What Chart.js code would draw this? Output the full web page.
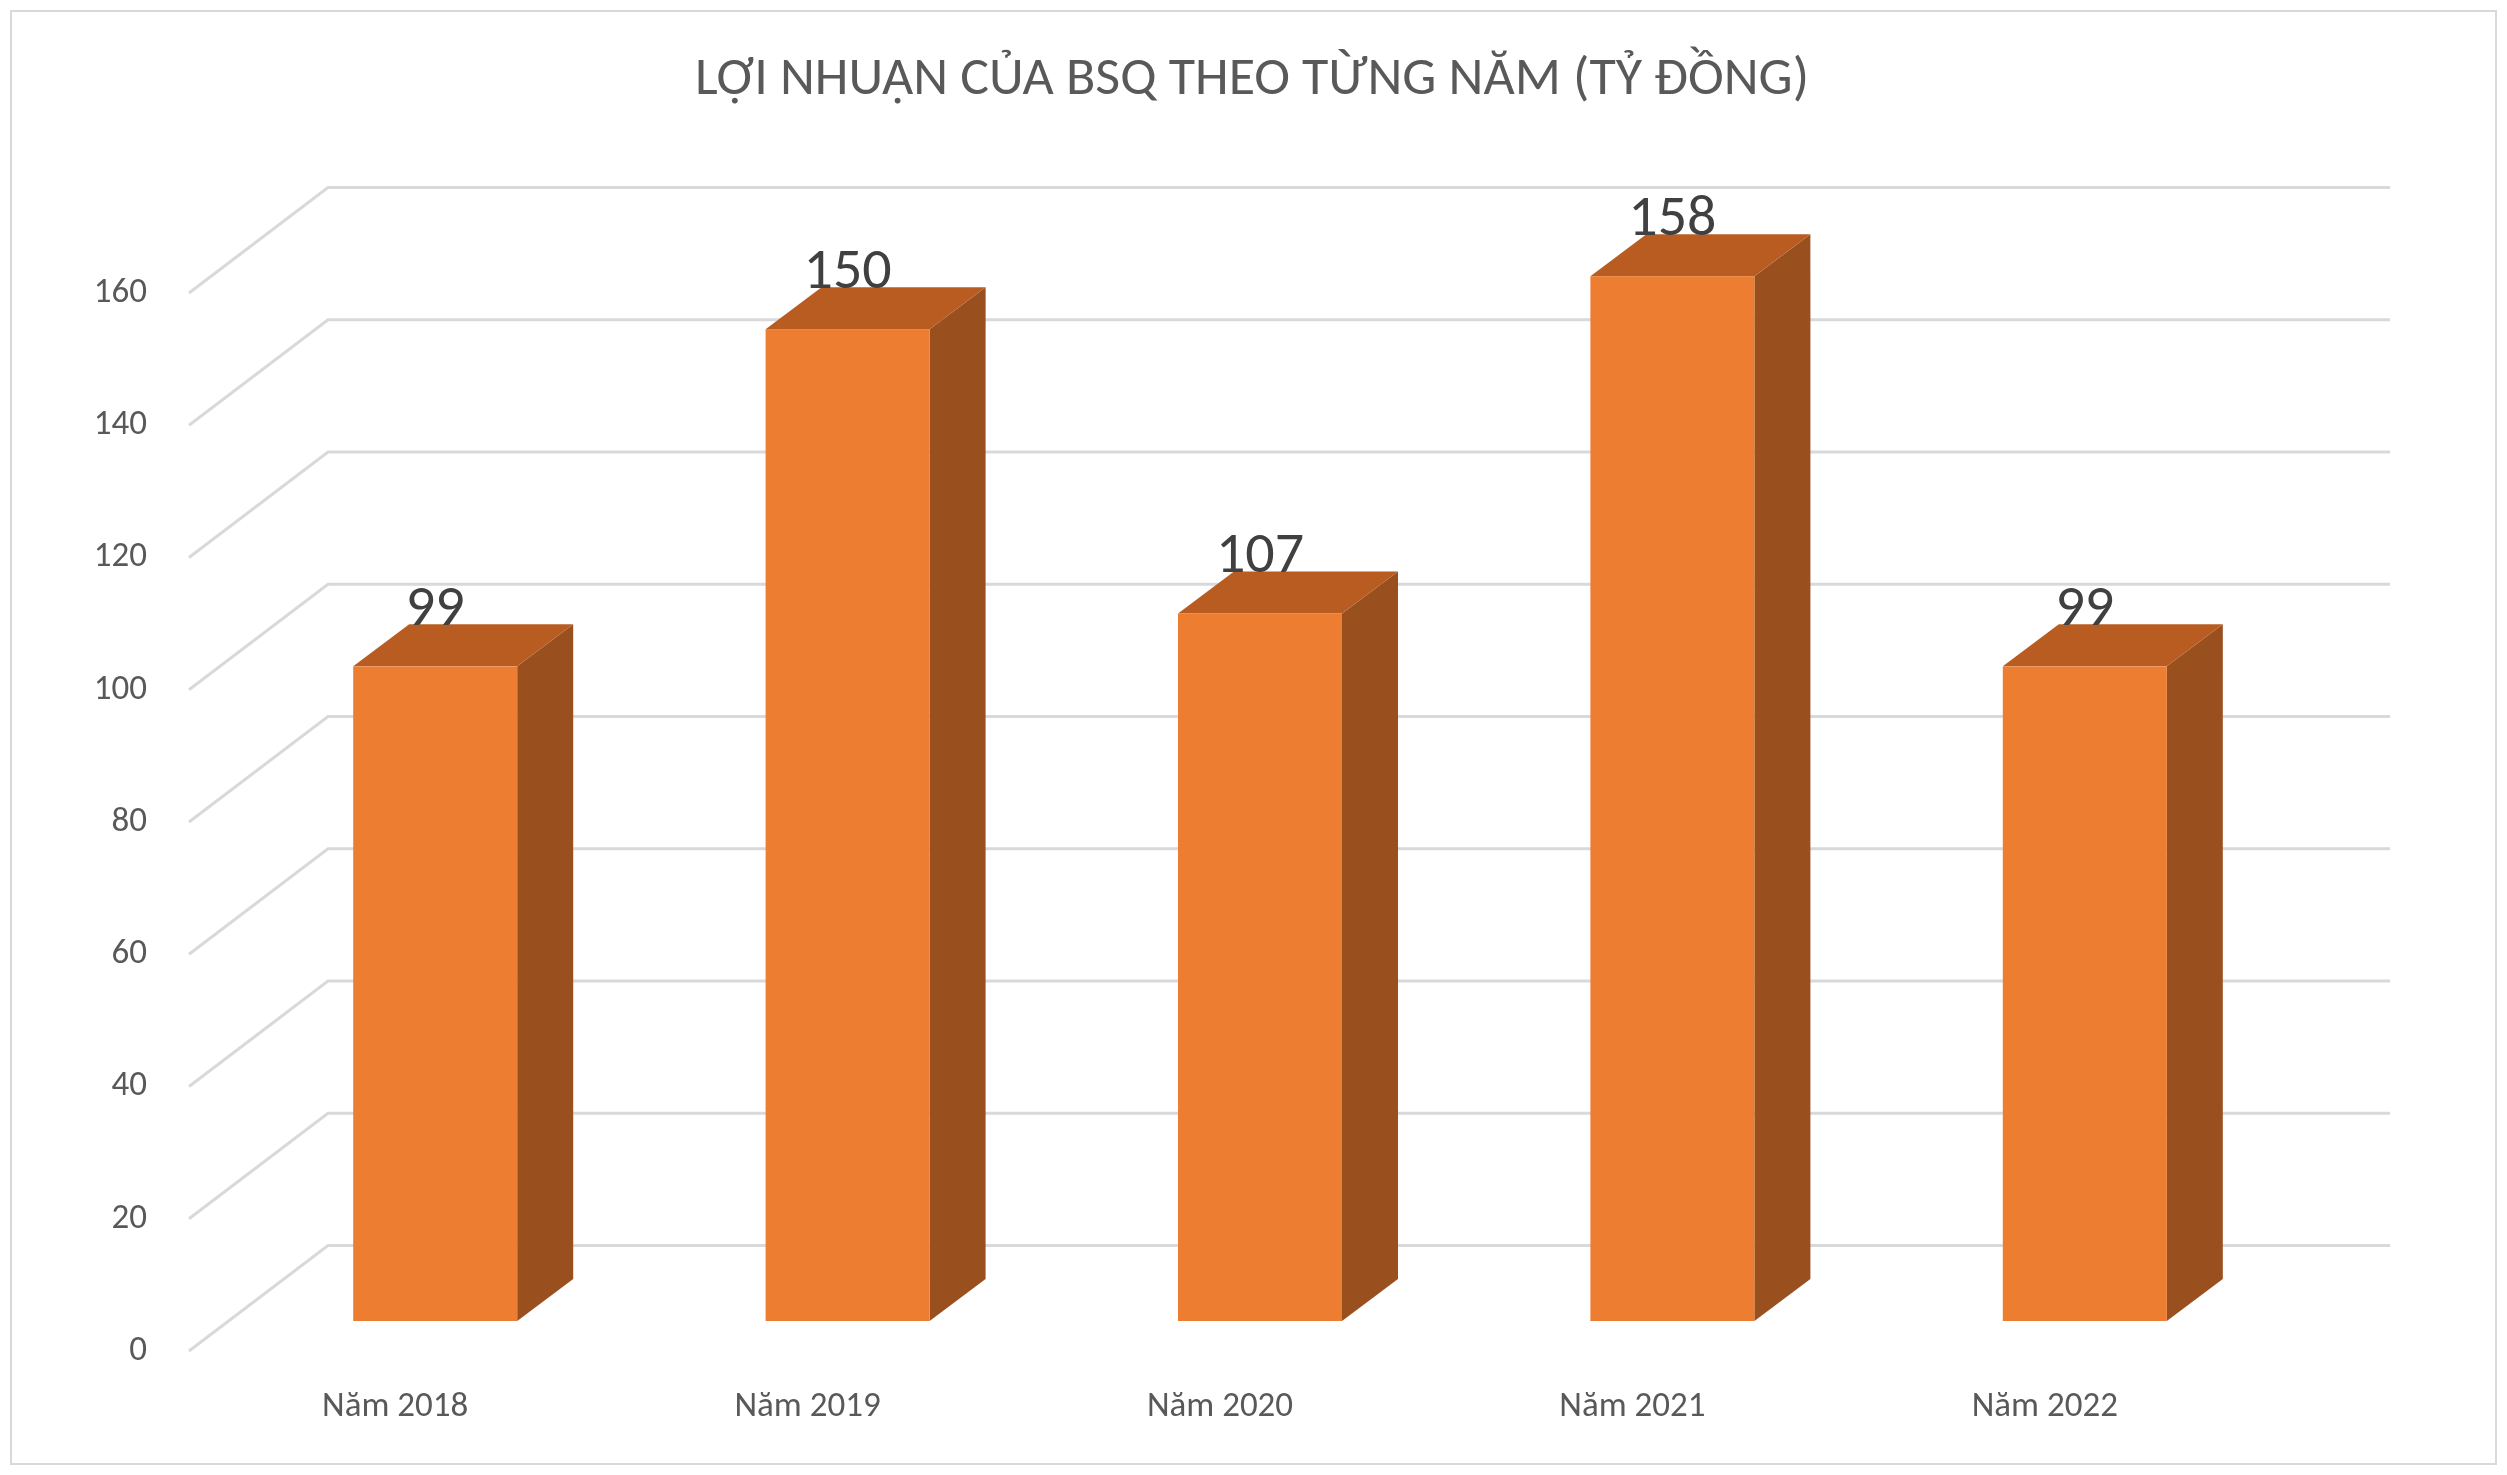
<!DOCTYPE html>
<html><head><meta charset="utf-8">
<script src="https://cdn.jsdelivr.net/npm/chart.js@4"></script>
<style>html,body{margin:0;padding:0;background:#fff}canvas{display:block}</style>
</head><body>
<canvas id="c" width="2507" height="1475"></canvas>
<script>
const categories = ["Năm 2018", "Năm 2019", "Năm 2020", "Năm 2021", "Năm 2022"];
const profits = [99, 150, 107, 158, 99];
const yTicks = [0, 20, 40, 60, 80, 100, 120, 140, 160];
const titleText = "LỢI NHUẬN CỦA BSQ THEO TỪNG NĂM (TỶ ĐỒNG)";

const FONT = "Calibri, Carlito, 'Open Sans', 'Liberation Sans', sans-serif";
const D = {dx: 139, dy: -105.5};     // full depth of back wall
const B = {dx: 40, dy: -30};         // bar front plane offset
const S = {dx: 56, dy: -42};         // bar depth
const BW = 164;                      // bar width

const plugin3d = {
  id: 'threeD',
  beforeDatasetsDraw(chart) {
    const ctx = chart.ctx, y = chart.scales.y, a = chart.chartArea;
    ctx.save();
    ctx.fillStyle = '#fff';
    ctx.strokeStyle = '#d9d9d9'; ctx.lineWidth = 2;
    ctx.strokeRect(11, 11, 2485, 1453);
    ctx.fillStyle = '#595959';
    ctx.font = "54px " + FONT; ctx.textAlign = 'center'; ctx.textBaseline = 'middle';
    ctx.fillText(titleText, 1252, 80);
    ctx.strokeStyle = '#d9d9d9'; ctx.lineWidth = 3;
    ctx.font = "35px " + FONT; ctx.textAlign = 'right';
    yTicks.forEach(v => {
      const py = y.getPixelForValue(v);
      ctx.beginPath();
      ctx.moveTo(a.left, py); ctx.lineTo(a.left + D.dx, py + D.dy);
      ctx.lineTo(a.right + D.dx, py + D.dy);
      ctx.stroke();
      ctx.fillText(String(v), a.left - 42, py);
    });
    ctx.textAlign = 'center';
    const x = chart.scales.x;
    categories.forEach((c, i) => ctx.fillText(c, x.getPixelForValue(i), a.bottom + 56));
    ctx.restore();
  },
  afterDatasetsDraw(chart) {
    const ctx = chart.ctx;
    const meta = chart.getDatasetMeta(0);
    ctx.save();
    meta.data.forEach((el, i) => {
      const l = el.x - BW / 2 + B.dx, r = el.x + BW / 2 + B.dx;
      const t = el.y + B.dy, b = el.base + B.dy;
      ctx.fillStyle = '#9A4F1E';
      ctx.beginPath();
      ctx.moveTo(r, t); ctx.lineTo(r + S.dx, t + S.dy); ctx.lineTo(r + S.dx, b + S.dy); ctx.lineTo(r, b);
      ctx.closePath(); ctx.fill();
      ctx.fillStyle = '#B85C22';
      ctx.beginPath();
      ctx.moveTo(l, t); ctx.lineTo(l + S.dx, t + S.dy); ctx.lineTo(r + S.dx, t + S.dy); ctx.lineTo(r, t);
      ctx.closePath(); ctx.fill();
      ctx.fillStyle = '#ED7D31';
      ctx.fillRect(l, t, BW, b - t);
      ctx.fillStyle = '#404040';
      ctx.font = "58px " + FONT; ctx.textAlign = 'center'; ctx.textBaseline = 'middle';
      ctx.fillText(String(profits[i]), (l + r) / 2, t - 56);
    });
    ctx.restore();
  }
};

new Chart(document.getElementById('c'), {
  type: 'bar',
  data: { labels: categories, datasets: [{ data: profits, backgroundColor: 'rgba(0,0,0,0)' }] },
  options: {
    responsive: false, animation: false, devicePixelRatio: 1,
    layout: { padding: { left: 189, right: 256, top: 293, bottom: 124 } },
    plugins: { legend: { display: false }, tooltip: { enabled: false } },
    scales: {
      x: { display: false },
      y: { display: false, min: 0, max: 160 }
    }
  },
  plugins: [plugin3d]
});
</script>
</body></html>
